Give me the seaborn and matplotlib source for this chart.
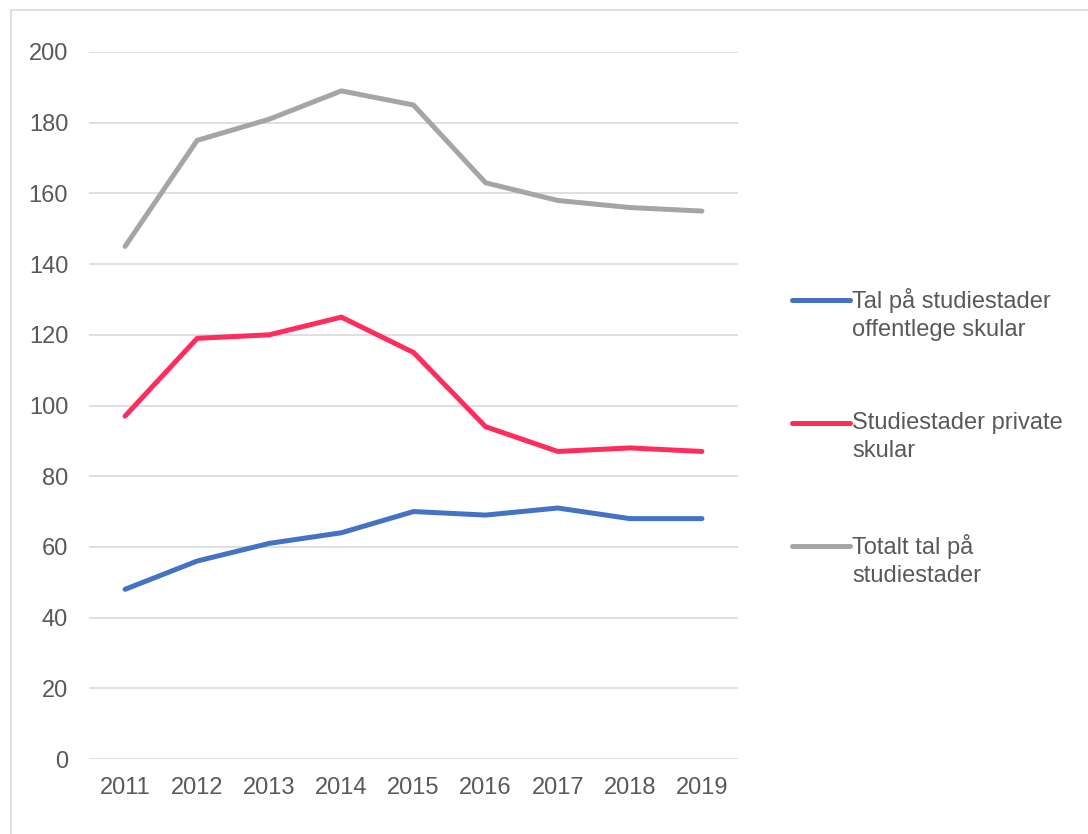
import matplotlib
matplotlib.use("Agg")
import matplotlib.pyplot as plt
import pandas as pd
import seaborn as sns
from matplotlib.patches import Rectangle

# data
years = ["2011", "2012", "2013", "2014", "2015", "2016", "2017", "2018", "2019"]
offentlege = [48, 56, 61, 64, 70, 69, 71, 68, 68]
private = [97, 119, 120, 125, 115, 94, 87, 88, 87]
totalt = [145, 175, 181, 189, 185, 163, 158, 156, 155]

series_names = ["Tal på studiestader\noffentlege skular",
                "Studiestader private\nskular",
                "Totalt tal på\nstudiestader"]
colors = ["#4472C4", "#FF2C5E", "#A5A5A5"]

df = pd.DataFrame({"year": years * 3,
                   "value": offentlege + private + totalt,
                   "series": [series_names[0]] * 9 + [series_names[1]] * 9 + [series_names[2]] * 9})

sns.set_theme(style="white")
plt.rcParams["font.family"] = ["Liberation Sans", "DejaVu Sans"]

fig = plt.figure(figsize=(10.88, 8.34), dpi=100)
ax = fig.add_axes([89 / 1088, 75 / 834, 649 / 1088, 707 / 834])

sns.lineplot(data=df, x="year", y="value", hue="series", palette=colors,
             linewidth=3.6, ax=ax, legend=False, sort=False)

ax.set_xlim(-0.5, 8.5)
ax.set_ylim(0, 200)
ax.set_yticks(range(0, 201, 20))
ax.grid(axis="y", color="#D9D9D9", linewidth=1.2)
ax.set_axisbelow(True)
for s in ax.spines.values():
    s.set_visible(False)
ax.set_xlabel("")
ax.set_ylabel("")
ax.tick_params(axis="both", length=0, labelsize=17, colors="#595959")
ax.tick_params(axis="y", pad=15)
ax.tick_params(axis="x", pad=13)

# legend: blank first line so the handle sits next to the first text line
handles = [plt.Line2D([], [], color=c, linewidth=3.6) for c in colors]
labels = ["\n" + n for n in series_names]
leg = fig.legend(handles, labels, loc="upper left", bbox_to_anchor=(792 / 1088, 1 - 259 / 834),
                 frameon=False, fontsize=17, handlelength=2.45, handletextpad=0.1,
                 labelspacing=1.82, borderaxespad=0, borderpad=0)
for t in leg.get_texts():
    t.set_color("#595959")
    t.set_linespacing(1.35)

fig.patches.append(Rectangle((11 / 1088, -0.1), 1.2, 1.1 - 10 / 834, transform=fig.transFigure,
                             fill=False, edgecolor="#D9D9D9", linewidth=1.2))

fig.savefig("out.png", dpi=100)
